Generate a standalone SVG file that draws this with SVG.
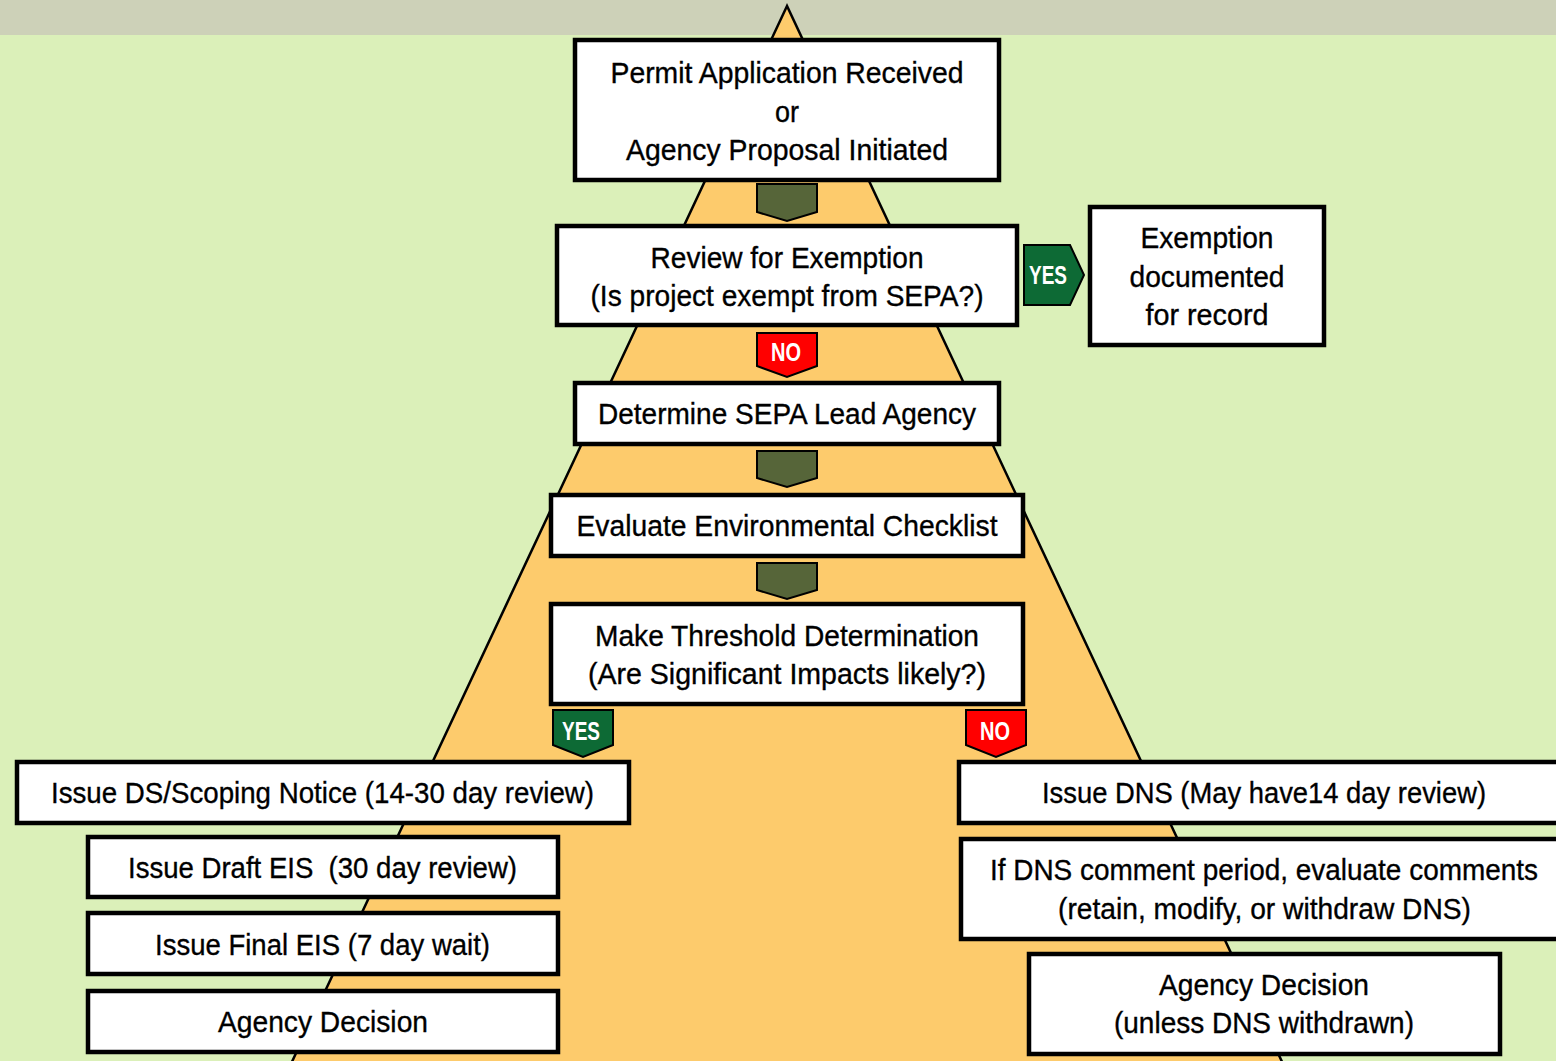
<svg xmlns="http://www.w3.org/2000/svg" width="1556" height="1061" viewBox="0 0 1556 1061">
  <style>
    .box { fill: #ffffff; stroke: #000000; stroke-width: 4.5; }
    .lbl { font-family: "Liberation Sans", Arial, sans-serif; font-size: 30px; fill: #000000; stroke: #000000; stroke-width: 0.35; text-anchor: middle; dominant-baseline: central; }
    .tag { font-family: "Liberation Sans", Arial, sans-serif; font-size: 26px; font-weight: bold; fill: #ffffff; text-anchor: middle; dominant-baseline: central; }
    .step { fill: #566539; stroke: #000000; stroke-width: 2; }
    .yes { fill: #0d6a35; stroke: #000000; stroke-width: 2; }
    .no { fill: #ff0000; stroke: #000000; stroke-width: 2; }
  </style>

  <!-- background, header band and the process pyramid -->
  <rect x="0" y="0" width="1556" height="1061" fill="#dbf0b9"/>
  <rect x="0" y="0" width="1556" height="35" fill="#cdd1b8"/>
  <polygon points="787,6 290,1066 1284,1066" fill="#fdcb6c" stroke="#000000" stroke-width="2.5"/>

  <!-- connectors between steps -->
  <g id="connectors">
    <polygon class="step" points="757,184 817,184 817,212 787,221 757,212"/>
    <polygon class="step" points="757,451 817,451 817,478 787,487 757,478"/>
    <polygon class="step" points="757,563 817,563 817,590 787,599 757,590"/>
    <g id="no-exempt">
      <polygon class="no" points="757,333 817,333 817,366 787,377 757,366"/>
      <text class="tag" x="786" y="352" textLength="30" lengthAdjust="spacingAndGlyphs">NO</text>
    </g>
    <g id="yes-exempt">
      <polygon class="yes" points="1024,245 1070,245 1084,275 1070,305 1024,305"/>
      <text class="tag" x="1048" y="275" textLength="38" lengthAdjust="spacingAndGlyphs">YES</text>
    </g>
    <g id="yes-significant">
      <polygon class="yes" points="553,710 613,710 613,745 583,757 553,745"/>
      <text class="tag" x="581" y="731" textLength="38" lengthAdjust="spacingAndGlyphs">YES</text>
    </g>
    <g id="no-significant">
      <polygon class="no" points="966,710 1026,710 1026,745 996,757 966,745"/>
      <text class="tag" x="995" y="731" textLength="30" lengthAdjust="spacingAndGlyphs">NO</text>
    </g>
  </g>

  <g id="permit">
    <rect class="box" x="575" y="40" width="424" height="140"/>
    <text class="lbl" x="787" y="72" textLength="353" lengthAdjust="spacingAndGlyphs">Permit Application Received</text>
    <text class="lbl" x="787" y="111" textLength="24" lengthAdjust="spacingAndGlyphs">or</text>
    <text class="lbl" x="787" y="149" textLength="322" lengthAdjust="spacingAndGlyphs">Agency Proposal Initiated</text>
  </g>

  <g id="exemption-review">
    <rect class="box" x="557" y="226" width="460" height="99"/>
    <text class="lbl" x="787" y="257" textLength="273" lengthAdjust="spacingAndGlyphs">Review for Exemption</text>
    <text class="lbl" x="787" y="295" textLength="393" lengthAdjust="spacingAndGlyphs">(Is project exempt from SEPA?)</text>
  </g>

  <g id="exemption-record">
    <rect class="box" x="1090" y="207" width="234" height="138"/>
    <text class="lbl" x="1207" y="237" textLength="133" lengthAdjust="spacingAndGlyphs">Exemption</text>
    <text class="lbl" x="1207" y="276" textLength="155" lengthAdjust="spacingAndGlyphs">documented</text>
    <text class="lbl" x="1207" y="314" textLength="123" lengthAdjust="spacingAndGlyphs">for record</text>
  </g>

  <g id="lead-agency">
    <rect class="box" x="575" y="383" width="424" height="61"/>
    <text class="lbl" x="787" y="413" textLength="378" lengthAdjust="spacingAndGlyphs">Determine SEPA Lead Agency</text>
  </g>

  <g id="checklist">
    <rect class="box" x="551" y="495" width="472" height="61"/>
    <text class="lbl" x="787" y="525" textLength="421" lengthAdjust="spacingAndGlyphs">Evaluate Environmental Checklist</text>
  </g>

  <g id="threshold">
    <rect class="box" x="551" y="604" width="472" height="100"/>
    <text class="lbl" x="787" y="635" textLength="384" lengthAdjust="spacingAndGlyphs">Make Threshold Determination</text>
    <text class="lbl" x="787" y="673" textLength="398" lengthAdjust="spacingAndGlyphs">(Are Significant Impacts likely?)</text>
  </g>

  <g id="ds-scoping">
    <rect class="box" x="17" y="762" width="612" height="61"/>
    <text class="lbl" x="322.5" y="792" textLength="543" lengthAdjust="spacingAndGlyphs">Issue DS/Scoping Notice (14-30 day review)</text>
  </g>

  <g id="draft-eis">
    <rect class="box" x="88" y="837" width="470" height="60"/>
    <text class="lbl" x="322.5" y="867" textLength="389" lengthAdjust="spacingAndGlyphs" xml:space="preserve">Issue Draft EIS  (30 day review)</text>
  </g>

  <g id="final-eis">
    <rect class="box" x="88" y="913" width="470" height="61"/>
    <text class="lbl" x="322.5" y="944" textLength="335" lengthAdjust="spacingAndGlyphs">Issue Final EIS (7 day wait)</text>
  </g>

  <g id="decision-eis">
    <rect class="box" x="88" y="991" width="470" height="61"/>
    <text class="lbl" x="323" y="1021" textLength="210" lengthAdjust="spacingAndGlyphs">Agency Decision</text>
  </g>

  <g id="dns">
    <rect class="box" x="959" y="762" width="610" height="61"/>
    <text class="lbl" x="1264" y="792" textLength="444" lengthAdjust="spacingAndGlyphs">Issue DNS (May have14 day review)</text>
  </g>

  <g id="dns-comments">
    <rect class="box" x="961" y="839" width="608" height="100"/>
    <text class="lbl" x="1264" y="869" textLength="548" lengthAdjust="spacingAndGlyphs">If DNS comment period, evaluate comments</text>
    <text class="lbl" x="1264.5" y="908" textLength="413" lengthAdjust="spacingAndGlyphs">(retain, modify, or withdraw DNS)</text>
  </g>

  <g id="decision-dns">
    <rect class="box" x="1029" y="954" width="471" height="100"/>
    <text class="lbl" x="1264" y="984" textLength="210" lengthAdjust="spacingAndGlyphs">Agency Decision</text>
    <text class="lbl" x="1264" y="1022" textLength="300" lengthAdjust="spacingAndGlyphs">(unless DNS withdrawn)</text>
  </g>
</svg>
